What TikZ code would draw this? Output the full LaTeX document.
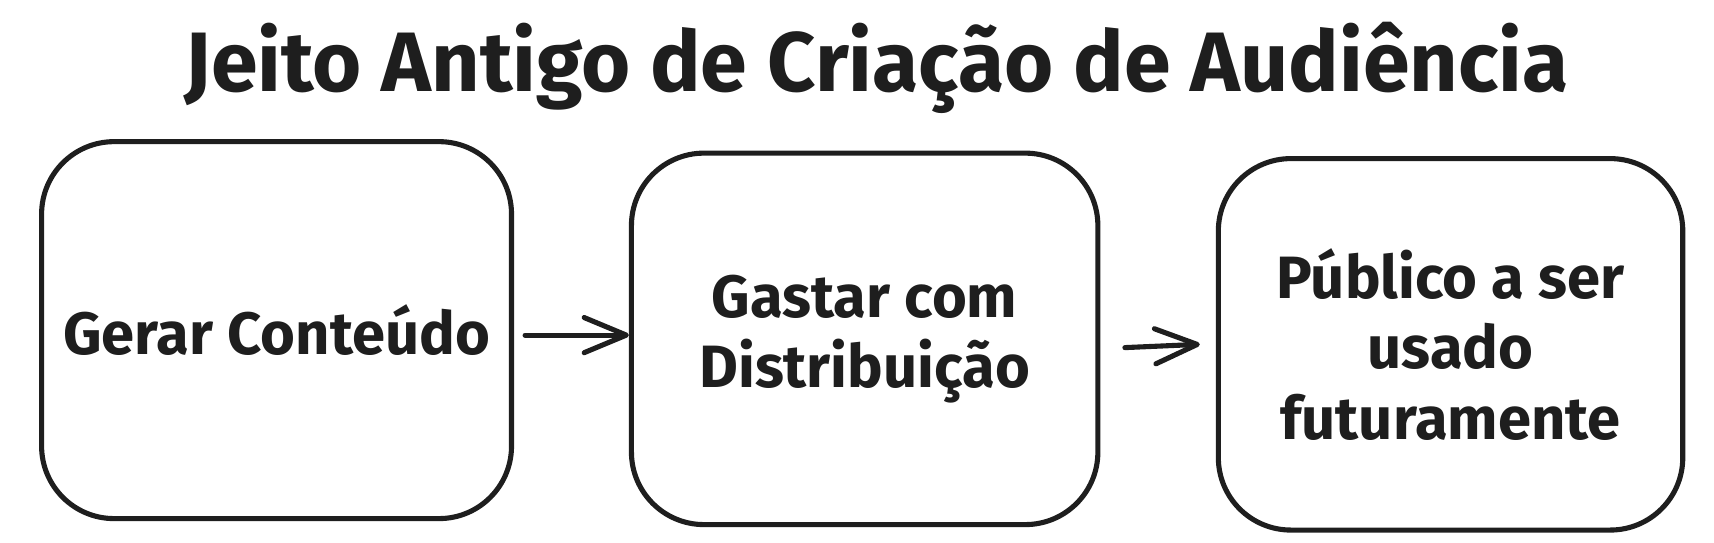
\documentclass[tikz,border=0pt]{standalone}
\usepackage{fontspec}
\setmainfont{Fira Sans}
\usepackage{tikz}
\usetikzlibrary{arrows.meta,positioning}
\definecolor{inkdark}{RGB}{30,30,30}

\begin{document}
\begin{tikzpicture}[x=0.02186cm,y=-0.02186cm,
  box/.style={draw=inkdark,line width=2.9pt,rounded corners=1.45cm,align=center,
    font=\fontsize{34}{40}\selectfont\bfseries,text=inkdark},
  arr/.style={draw=inkdark,line width=2.9pt,line cap=round,
    -{Straight Barb[length=24pt,width=20pt,round]}}]
\useasboundingbox (0,0) rectangle (1568,496);
% title
\node[font=\fontsize{48}{54}\selectfont\bfseries,text=inkdark] (title) at (802,62) {Jeito Antigo de Criação de Audiência};
% three steps
\node[box,minimum width=9.4cm,minimum height=7.54cm] (gerar) at (253,302) {Gerar Conteúdo};
\node[box,minimum width=9.33cm,minimum height=7.43cm] (gastar) at (791,310) {Gastar com\\Distribuição};
\node[box,minimum width=9.29cm,minimum height=7.43cm] (publico) at (1327,315) {Público a ser\\usado\\futuramente};
% arrows
\draw[arr] ([xshift=0.22cm,yshift=-0.1cm]gerar.east) -- ([yshift=-0.1cm]gastar.west |- gerar.east);
\draw[arr] ([xshift=0.49cm,yshift=-0.175cm]gastar.east) -- ([xshift=-0.32cm]publico.west);
\end{tikzpicture}
\end{document}
